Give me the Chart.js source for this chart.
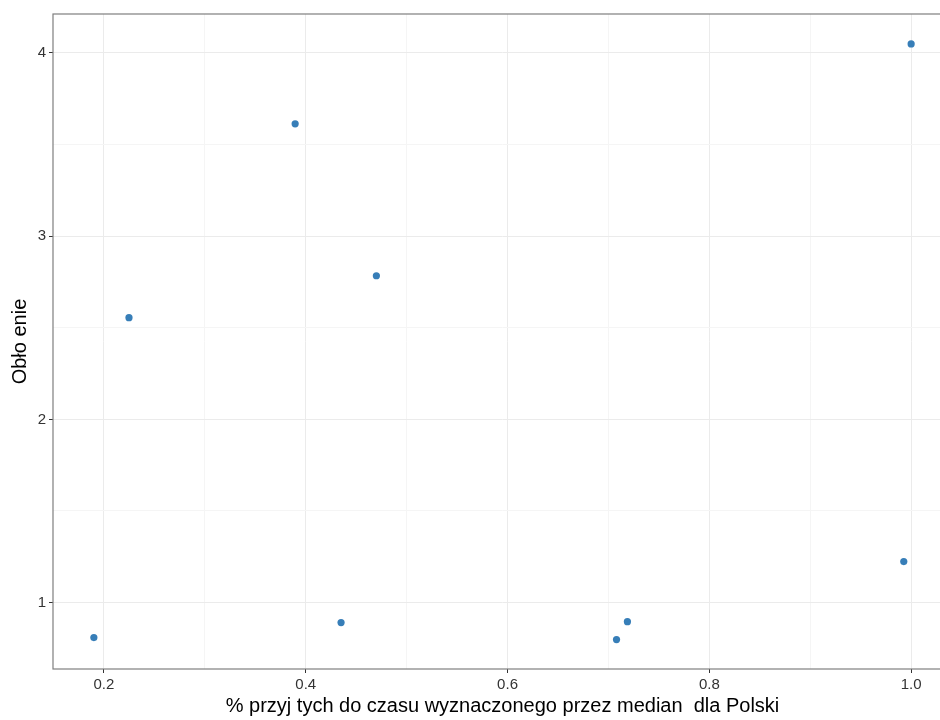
<!DOCTYPE html>
<html>
<head>
<meta charset="utf-8">
<script src="https://cdn.jsdelivr.net/npm/chart.js@4"></script>
<style>
html,body{margin:0;padding:0;overflow:hidden;background:#fff;}
#wrap{width:962px;height:720px;position:relative;}
</style>
</head>
<body>
<div id="wrap"><canvas id="c"></canvas></div>
<script>
const xValues = [0.190, 0.2248, 0.3895, 0.435, 0.470, 0.708, 0.7188, 0.9927, 1.000];
const yValues = [0.809, 2.555, 3.613, 0.891, 2.784, 0.798, 0.896, 1.224, 4.049];
const xMajorTicks = [0.2, 0.4, 0.6, 0.8, 1.0];
const xMinorTicks = [0.3, 0.5, 0.7, 0.9];
const yMajorTicks = [1, 2, 3, 4];
const yMinorTicks = [1.5, 2.5, 3.5];
const xTitle = '% przyj tych do czasu wyznaczonego przez median  dla Polski';
const yTitle = 'Obło enie';

const points = xValues.map((x, i) => ({x: x, y: yValues[i]}));
const isMajor = (list, v) => list.some(t => Math.abs(t - v) < 1e-9);
const fontFam = '"Liberation Sans", Arial, sans-serif';

const border = {
  id: 'border',
  afterDraw(chart) {
    const a = chart.chartArea, ctx = chart.ctx;
    ctx.save();
    ctx.strokeStyle = '#7f7f7f';
    ctx.lineWidth = 1.2;
    ctx.strokeRect(a.left, a.top, a.right - a.left, a.bottom - a.top);
    ctx.restore();
  }
};

new Chart(document.getElementById('c'), {
  type: 'scatter',
  data: { datasets: [{ data: points, backgroundColor: '#377EB8', borderColor: '#377EB8', pointRadius: 3.6, pointHoverRadius: 3.6, borderWidth: 0 }] },
  options: {
    responsive: true, maintainAspectRatio: false, animation: false,
    layout: { padding: { top: 14, right: 10, bottom: 0, left: 0 } },
    plugins: { legend: { display: false }, tooltip: { enabled: false } },
    scales: {
      x: {
        type: 'linear', min: 0.1495, max: 1.0405,
        afterBuildTicks: s => { s.ticks = [...xMajorTicks, ...xMinorTicks].sort((a,b)=>a-b).map(v => ({value: v})); },
        afterFit: s => { s.height = 51; },
        border: { display: false },
        grid: {
          color: c => isMajor(xMajorTicks, c.tick.value) ? '#ebebeb' : '#f5f5f5',
          lineWidth: 1,
          tickColor: c => isMajor(xMajorTicks, c.tick.value) ? '#333333' : 'rgba(0,0,0,0)',
          tickLength: 4, drawTicks: true
        },
        ticks: {
          autoSkip: false, maxRotation: 0, padding: 3,
          color: '#333333', font: { family: fontFam, size: 15 },
          callback: v => isMajor(xMajorTicks, v) ? (Math.round(v * 10) / 10).toFixed(1) : ''
        },
        title: { display: true, text: xTitle, color: '#000', font: { family: fontFam, size: 20 }, padding: { top: 0, bottom: 2 } }
      },
      y: {
        type: 'linear', min: 0.6375, max: 4.2125,
        afterBuildTicks: s => { s.ticks = [...yMajorTicks, ...yMinorTicks].sort((a,b)=>a-b).map(v => ({value: v})); },
        afterFit: s => { s.width = 53; },
        border: { display: false },
        grid: {
          color: c => isMajor(yMajorTicks, c.tick.value) ? '#ebebeb' : '#f5f5f5',
          lineWidth: 1,
          tickColor: c => isMajor(yMajorTicks, c.tick.value) ? '#333333' : 'rgba(0,0,0,0)',
          tickLength: 4, drawTicks: true
        },
        ticks: {
          autoSkip: false, padding: 3,
          color: '#333333', font: { family: fontFam, size: 15 },
          callback: v => isMajor(yMajorTicks, v) ? String(v) : ''
        },
        title: { display: true, text: yTitle, color: '#000', font: { family: fontFam, size: 20 }, padding: { top: 8, bottom: 0 } }
      }
    }
  },
  plugins: [border]
});
</script>
</body>
</html>
